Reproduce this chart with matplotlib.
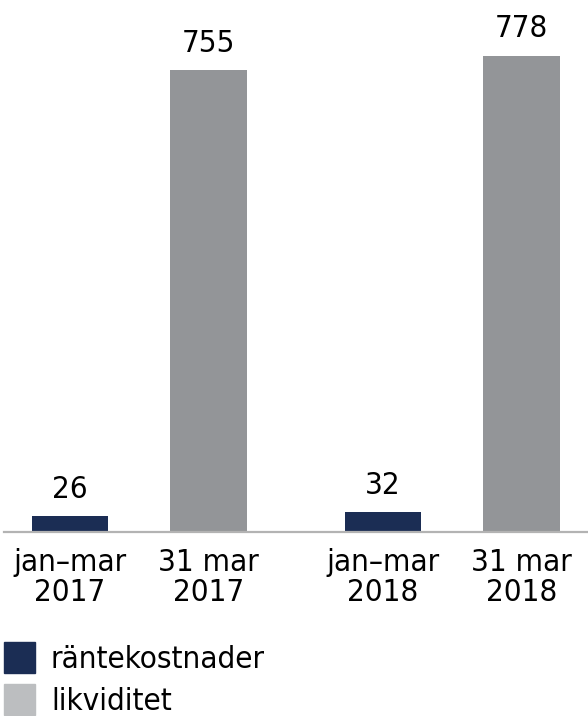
import matplotlib
matplotlib.use("Agg")
import matplotlib.pyplot as plt
from matplotlib.patches import Patch

# räntekostnader och likviditet, MSEK
kategorier = ["jan\u2013mar\n2017", "31 mar\n2017", "jan\u2013mar\n2018", "31 mar\n2018"]
varden = [26, 755, 32, 778]
serie = ["räntekostnader", "likviditet", "räntekostnader", "likviditet"]
positioner = [0, 1, 2.26, 3.26]

farg_bar = {"räntekostnader": "#1b2d54", "likviditet": "#939598"}
farg_legend = {"räntekostnader": "#1b2d54", "likviditet": "#bcbec0"}

plt.rcParams["font.family"] = "DejaVu Sans"
plt.rcParams["font.stretch"] = "condensed"
fs = 22.5

fig = plt.figure(figsize=(5.88, 7.16), dpi=100)
W, H = 588, 716
ax = fig.add_axes([4 / W, (H - 532) / H, (588 - 4) / W, 532 / H])

ax.bar(positioner, varden, width=0.55, color=[farg_bar[s] for s in serie])
for x, v in zip(positioner, varden):
    ax.annotate(str(v), (x, v), xytext=(0, 9), textcoords="offset points",
                ha="center", va="bottom", fontsize=fs)

ax.set_xlim(-0.477, 3.74)
ax.set_ylim(0, 532 / (462 / 755))
ax.set_xticks(positioner)
ax.set_xticklabels(kategorier, fontsize=fs, linespacing=1.05)
ax.tick_params(axis="x", length=0, pad=11.5)
ax.set_yticks([])
for s in ["top", "left", "right"]:
    ax.spines[s].set_visible(False)
ax.spines["bottom"].set_color("#b3b3b3")
ax.spines["bottom"].set_linewidth(1.6)

handles = [Patch(color=farg_legend[k], label=k) for k in ["räntekostnader", "likviditet"]]
fig.legend(handles=handles, loc="upper left", bbox_to_anchor=(4 / W, (H - 642) / H),
           frameon=False, fontsize=fs, handlelength=1.0, handleheight=1.15,
           handletextpad=0.5, labelspacing=0.32, borderpad=0, borderaxespad=0)

fig.savefig("out.png", dpi=100)
